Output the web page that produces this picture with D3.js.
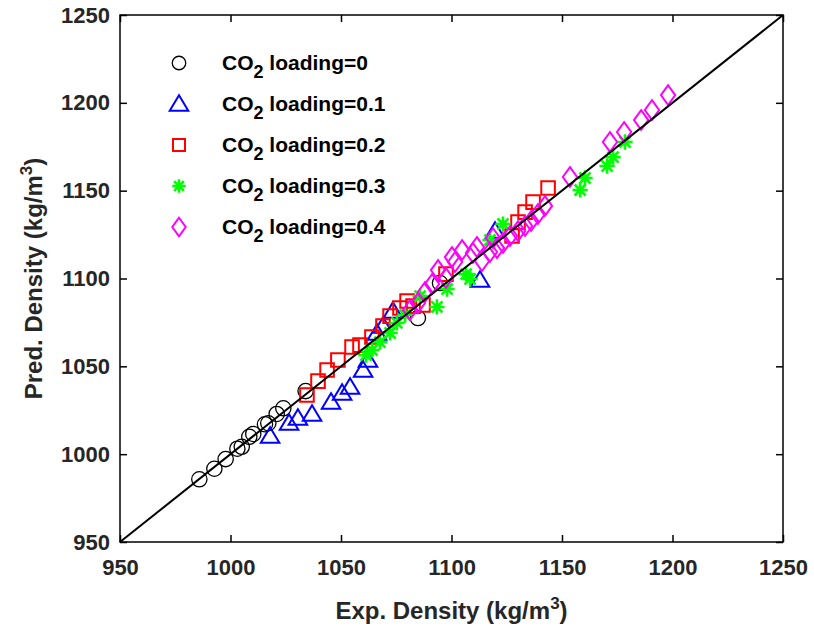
<!DOCTYPE html>
<html>
<head>
<meta charset="utf-8">
<script src="https://cdn.jsdelivr.net/npm/d3@7"></script>
<style>
  body { margin: 0; background: #fff; }
  text { font-family: "Liberation Sans", Arial, sans-serif; font-weight: bold; }
</style>
</head>
<body>
<div id="chart"></div>
<script>
// Experimental vs predicted density for each CO2 loading
const loading0Exp = [985.9, 992.7, 997.8, 1003.1, 1005.1, 1008.5, 1010.3, 1015.6, 1017.1, 1020.9, 1023.9, 1034.0, 1084.8, 1094.8];
const loading0Pred = [985.7, 991.7, 997.2, 1003.1, 1004.2, 1009.9, 1011.5, 1017.0, 1017.6, 1022.9, 1026.1, 1035.9, 1077.5, 1097.4];

const loading1Exp = [1017.9, 1026.5, 1030.5, 1036.9, 1045.5, 1050.5, 1054.1, 1060.0, 1062.2, 1066.3, 1069.0, 1073.5, 1112.9, 1119.7];
const loading1Pred = [1010.3, 1017.7, 1020.6, 1022.9, 1029.7, 1034.8, 1038.2, 1047.9, 1053.6, 1069.0, 1073.0, 1081.5, 1099.1, 1127.0];

const loading2Exp = [1034.6, 1039.6, 1043.7, 1048.6, 1055.0, 1058.6, 1064.0, 1069.0, 1072.2, 1076.7, 1079.9, 1082.6, 1087.1, 1097.5, 1127.4, 1130.1, 1133.3, 1136.9, 1143.7];
const loading2Pred = [1033.7, 1041.6, 1047.9, 1053.6, 1061.0, 1062.1, 1066.7, 1073.0, 1078.6, 1083.2, 1087.2, 1084.3, 1084.9, 1102.5, 1124.2, 1132.1, 1137.8, 1143.5, 1151.5];

const loading3Exp = [1061.3, 1064.0, 1067.6, 1072.2, 1075.3, 1079.0, 1085.8, 1093.4, 1098.0, 1106.6, 1108.4, 1117.4, 1123.3, 1158.2, 1160.4, 1170.4, 1173.1, 1178.5];
const loading3Pred = [1056.4, 1059.3, 1063.8, 1069.0, 1074.7, 1079.2, 1090.0, 1083.8, 1094.0, 1102.5, 1099.7, 1121.9, 1131.0, 1150.4, 1157.2, 1164.0, 1169.1, 1177.7];

const loading4Exp = [1081.2, 1084.8, 1088.0, 1091.2, 1093.9, 1097.5, 1100.2, 1101.6, 1104.8, 1109.7, 1111.5, 1113.8, 1117.4, 1118.8, 1120.6, 1123.3, 1126.5, 1130.1, 1133.3, 1136.0, 1139.1, 1142.3, 1153.6, 1171.7, 1178.1, 1185.8, 1190.7, 1198.0];
const loading4Pred = [1082.1, 1086.0, 1092.3, 1096.9, 1104.8, 1100.3, 1112.2, 1109.4, 1116.2, 1114.5, 1117.9, 1109.9, 1115.1, 1123.0, 1117.3, 1120.2, 1124.2, 1127.0, 1129.9, 1132.7, 1136.7, 1141.3, 1157.8, 1177.7, 1183.4, 1190.2, 1195.9, 1204.4];

const loadingLabels = ["0", "0.1", "0.2", "0.3", "0.4"];
const axisTicks = [950, 1000, 1050, 1100, 1150, 1200, 1250];

// Series table built from the arrays above
const series = [
  { label: loadingLabels[0], exp: loading0Exp, pred: loading0Pred, marker: "circle", color: "#000000" },
  { label: loadingLabels[1], exp: loading1Exp, pred: loading1Pred, marker: "triangle", color: "#0000ff" },
  { label: loadingLabels[2], exp: loading2Exp, pred: loading2Pred, marker: "square", color: "#ff0000" },
  { label: loadingLabels[3], exp: loading3Exp, pred: loading3Pred, marker: "asterisk", color: "#00ff00" },
  { label: loadingLabels[4], exp: loading4Exp, pred: loading4Pred, marker: "diamond", color: "#ff00ff" },
];

// Dimensions
const width = 814;
const height = 634;
const margin = { top: 15, right: 31, bottom: 92, left: 120 };
const innerW = width - margin.left - margin.right;
const innerH = height - margin.top - margin.bottom;

const svg = d3
  .select("#chart")
  .append("svg")
  .attr("width", width)
  .attr("height", height)
  .append("g")
  .attr("transform", `translate(${margin.left},${margin.top})`);

const xScale = d3.scaleLinear().domain([950, 1250]).range([0, innerW]);
const yScale = d3.scaleLinear().domain([950, 1250]).range([innerH, 0]);

// Marker path generator (shapes centred at 0,0)
function markerPath(type, s) {
  if (type === "triangle") {
    return `M0,${-s * 0.55}L${s * 0.58},${s * 0.42}L${-s * 0.58},${s * 0.42}Z`;
  }
  if (type === "square") {
    const h = s * 0.4;
    return `M${-h},${-h}H${h}V${h}H${-h}Z`;
  }
  if (type === "diamond") {
    return `M0,${-s * 0.58}L${s * 0.42},0L0,${s * 0.58}L${-s * 0.42},0Z`;
  }
  if (type === "asterisk") {
    const r = s * 0.45;
    const d = r * 0.72;
    return `M${-r},0H${r}M0,${-r}V${r}M${-d},${-d}L${d},${d}M${-d},${d}L${d},${-d}`;
  }
  return "";
}

function drawMarker(g, type, color, s) {
  if (type === "circle") {
    g.append("circle")
      .attr("r", s * 0.45)
      .attr("fill", "none")
      .attr("stroke", color)
      .attr("stroke-width", 1.3);
  } else {
    g.append("path")
      .attr("d", markerPath(type, s))
      .attr("fill", "none")
      .attr("stroke", color)
      .attr("stroke-width", type === "asterisk" ? 2.6 : 2);
  }
}

// marker size in the plot area
const plotSize = { circle: 17, triangle: 16, square: 17, asterisk: 17, diamond: 17 };
const legendSize = { circle: 15, triangle: 16, square: 15, asterisk: 15, diamond: 16 };

// Axes with inward ticks on all four sides
svg
  .append("g")
  .attr("class", "x-axis")
  .attr("transform", `translate(0,${innerH})`)
  .call(d3.axisBottom(xScale).tickValues(axisTicks).tickSize(-7).tickPadding(17).tickFormat(d3.format("d")));

svg
  .append("g")
  .call(d3.axisTop(xScale).tickValues(axisTicks).tickSize(-7).tickFormat(""));

svg
  .append("g")
  .attr("class", "y-axis")
  .call(d3.axisLeft(yScale).tickValues(axisTicks).tickSize(-7).tickPadding(10).tickFormat(d3.format("d")));

svg
  .append("g")
  .attr("transform", `translate(${innerW},0)`)
  .call(d3.axisRight(yScale).tickValues(axisTicks).tickSize(-7).tickFormat(""));

svg.selectAll(".domain").remove();
svg.selectAll(".tick line").attr("stroke", "#000").attr("stroke-width", 1.5);
svg
  .selectAll(".x-axis text, .y-axis text")
  .attr("fill", "#262626")
  .style("font-size", "22px")
  .style("font-weight", "bold");

// Points, one group per series
series.forEach((s) => {
  const pts = s.exp.map((e, i) => ({ exp: e, pred: s.pred[i] }));
  svg
    .append("g")
    .selectAll("g")
    .data(pts)
    .enter()
    .append("g")
    .attr("transform", (d) => `translate(${xScale(d.exp)},${yScale(d.pred)})`)
    .each(function () {
      drawMarker(d3.select(this), s.marker, s.color, plotSize[s.marker]);
    });
});

// y = x reference line
svg
  .append("line")
  .attr("x1", xScale(950))
  .attr("y1", yScale(950))
  .attr("x2", xScale(1250))
  .attr("y2", yScale(1250))
  .attr("stroke", "#000")
  .attr("stroke-width", 2);

// Frame
svg
  .append("rect")
  .attr("width", innerW)
  .attr("height", innerH)
  .attr("fill", "none")
  .attr("stroke", "#000")
  .attr("stroke-width", 1.5);

// Legend
const legend = svg.append("g").attr("transform", "translate(59,48)");
series.forEach((s, i) => {
  const row = legend.append("g").attr("transform", `translate(0,${i * 41})`);
  const m = row.append("g");
  drawMarker(m, s.marker, s.color, legendSize[s.marker]);
  const t = row
    .append("text")
    .attr("x", 43)
    .attr("y", 7)
    .attr("fill", "#000")
    .style("font-size", "21px");
  t.append("tspan").text("CO");
  t.append("tspan").attr("dy", 8).style("font-size", "18px").text("2");
  t.append("tspan").attr("dy", -8).text(` loading=${s.label}`);
});

// x-axis label
const xLabel = svg
  .append("text")
  .attr("x", innerW / 2)
  .attr("y", innerH + 77)
  .attr("text-anchor", "middle")
  .attr("fill", "#262626")
  .style("font-size", "24px");
xLabel.append("tspan").text("Exp. Density (kg/m");
xLabel.append("tspan").attr("dy", -10).style("font-size", "17px").text("3");
xLabel.append("tspan").attr("dy", 10).text(")");

// y-axis label
const yLabel = svg
  .append("text")
  .attr("transform", "rotate(-90)")
  .attr("x", -innerH / 2)
  .attr("y", -78)
  .attr("text-anchor", "middle")
  .attr("fill", "#262626")
  .style("font-size", "24px");
yLabel.append("tspan").text("Pred. Density (kg/m");
yLabel.append("tspan").attr("dy", -10).style("font-size", "17px").text("3");
yLabel.append("tspan").attr("dy", 10).text(")");
</script>
</body>
</html>
